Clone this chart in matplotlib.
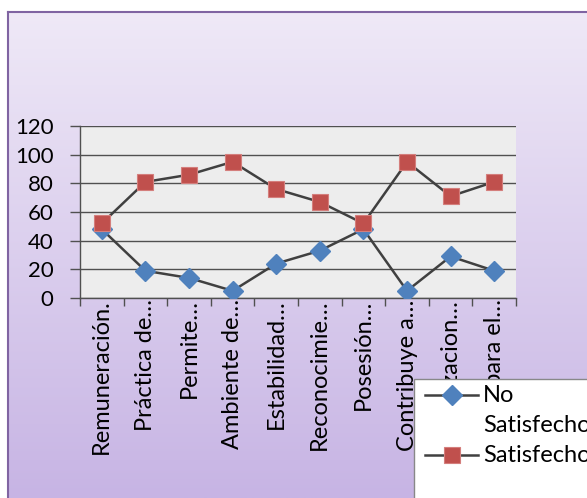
import numpy as np
import matplotlib
matplotlib.use("Agg")
import matplotlib.pyplot as plt
from matplotlib.lines import Line2D
from matplotlib.patches import Rectangle

plt.rcParams['font.family'] = ['Lato', 'DejaVu Sans']

# data
categories = ["Remuneración.", "Práctica de…", "Permite…", "Ambiente de…",
              "Estabilidad…", "Reconocimie…", "Posesión…", "Contribuye a…",
              "Organizacion…", "Oportunidades para el…"]
no_satisfecho = [48, 19, 14, 5, 24, 33, 48, 5, 29, 19]
satisfecho = [52, 81, 86, 95, 76, 67, 52, 95, 71, 81]
y_ticks = [0, 20, 40, 60, 80, 100, 120]
series_names = [["No", "Satisfecho"], ["Satisfecho"]]

W, H = 587, 498
fig = plt.figure(figsize=(W / 100, H / 100), dpi=100)
fig.patch.set_facecolor('white')

# purple gradient chart area with a frame on the left and top
bg = fig.add_axes([8 / W, 0, 1 - 8 / W, 1 - 12 / H])
bg.set_zorder(-1)
grad = np.linspace(0, 1, 256).reshape(-1, 1)
top_c = np.array([0xEF, 0xE9, 0xF7]) / 255
bot_c = np.array([0xC7, 0xB4, 0xE4]) / 255
img = top_c[None, None, :] * (1 - grad[:, :, None]) + bot_c[None, None, :] * grad[:, :, None]
bg.imshow(img, aspect='auto', extent=[0, 1, 0, 1])
bg.set_xticks([])
bg.set_yticks([])
for side in ['right', 'bottom']:
    bg.spines[side].set_visible(False)
for side in ['left', 'top']:
    bg.spines[side].set_color('#8064A2')
    bg.spines[side].set_linewidth(1.5)

# plot area
ax = fig.add_axes([80 / W, 1 - 298 / H, (516 - 80) / W, (298 - 126) / H])
ax.set_facecolor('#EDEDED')
x = np.arange(len(categories))
styles = [
    dict(color='#404040', lw=1.8, marker='D', markersize=10,
         markerfacecolor='#4F81BD', markeredgecolor='#4F81BD'),
    dict(color='#404040', lw=1.8, marker='s', markersize=11,
         markerfacecolor='#C0504D', markeredgecolor='#D47E7C', markeredgewidth=0.8),
]
ax.plot(x, no_satisfecho, zorder=3, **styles[0])
ax.plot(x, satisfecho, zorder=3, **styles[1])

ax.set_xlim(-0.5, len(categories) - 0.5)
ax.set_ylim(0, 120)
ax.set_yticks(y_ticks)
ax.set_yticklabels([str(v) for v in y_ticks], fontsize=16)
ax.yaxis.grid(True, color='#505050', lw=1)
ax.set_axisbelow(True)
ax.tick_params(axis='y', length=7, width=1, color='#505050', pad=12)

ax.set_xticks(x)
ax.set_xticklabels(categories, rotation=90, fontsize=17, va='top', ha='center')
ax.set_xticks(np.arange(len(categories) + 1) - 0.5, minor=True)
ax.tick_params(axis='x', which='major', length=0, pad=1)
ax.tick_params(axis='x', which='minor', length=6, width=1, color='#505050')

for side in ['top', 'right']:
    ax.spines[side].set_visible(False)
for side in ['left', 'bottom']:
    ax.spines[side].set_color('#505050')
    ax.spines[side].set_linewidth(1)

# legend box, running off the bottom and right edge (Excel style: marker on first text line)
fig.patches.append(Rectangle((414 / W, -0.05), 1, 1.05 - 379 / H, transform=fig.transFigure,
                             facecolor='white', edgecolor='#888888', lw=1, zorder=4))
row = 0
for name_lines, st in zip(series_names, styles):
    y0 = 395 + 30 * row
    handle = Line2D([425 / W, 478 / W], [1 - y0 / H, 1 - y0 / H],
                    transform=fig.transFigure, markevery=[], zorder=6, **st)
    fig.add_artist(handle)
    fig.add_artist(Line2D([451.5 / W], [1 - y0 / H], transform=fig.transFigure,
                          linestyle='none', zorder=7,
                          **{k: v for k, v in st.items() if k not in ('color', 'lw')}))
    for line in name_lines:
        fig.text(483 / W, 1 - (395 + 30 * row) / H, line, fontsize=17,
                 va='center', ha='left', zorder=7)
        row += 1

fig.savefig('out.png', dpi=100)
